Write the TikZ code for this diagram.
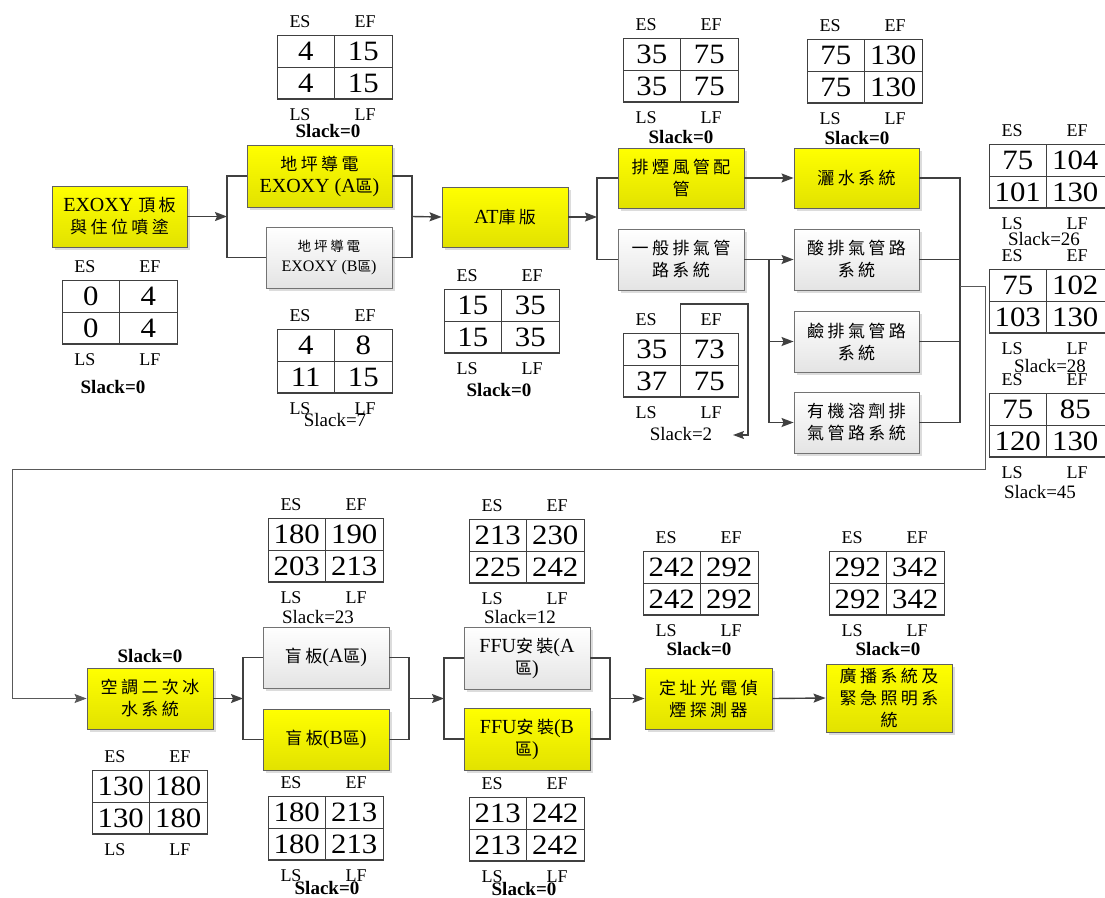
\documentclass[tikz,border=0pt]{standalone}
\usepackage{fontspec}
\setmainfont{Liberation Serif}
\newfontfamily\cjk{Noto Sans CJK TC}[Scale=0.85,LetterSpace=20]
\newfontfamily\numfont{Liberation Serif}[FakeStretch=1.1]
\usetikzlibrary{arrows.meta,shadows}
\newcommand\zh[1]{{\cjk #1}}

\definecolor{linegrey}{HTML}{404040}
\definecolor{boxedge}{HTML}{606060}
\definecolor{yeltop}{HTML}{FFFF00}
\definecolor{yelbot}{HTML}{E2E200}
\definecolor{greybot}{HTML}{E4E4E4}

% activity table: name, top-left x, y, ES, EF, LS, LF, width
\newcommand\cpmtable[8]{%
  \begin{scope}[shift={(#2,#3)}]
    \draw[gridln] (0,0) rectangle (#8,64);
    \draw[gridln] (57.5,0) -- (57.5,64) (0,32) -- (#8,32);
    \draw[gridbot] (0,64) -- (#8,64);
    \node[num] (#1es) at (28.75,16) {#4};
    \node[num] (#1ef) at (86.25,16) {#5};
    \node[num] (#1ls) at (28.75,48) {#6};
    \node[num] (#1lf) at (86.25,48) {#7};
    \node[lbl] (#1tes) at (23,-13) {ES};
    \node[lbl] (#1tef) at (88,-13) {EF};
    \node[lbl] (#1tls) at (23,80) {LS};
    \node[lbl] (#1tlf) at (88,80) {LF};
  \end{scope}}

\tikzset{
  act/.style={draw=boxedge, line width=0.9pt, minimum width=126pt, minimum height=61pt,
    align=center, inner sep=2pt, font=\fontsize{20}{22}\selectfont,
    drop shadow={shadow xshift=3pt, shadow yshift=-3pt, fill=black!30, opacity=0.45}},
  crit/.style={act, top color=yeltop, bottom color=yelbot},
  grey/.style={act, draw=black!55, top color=white, bottom color=greybot},
  conn/.style={draw=linegrey, line width=1.4pt},
  arr/.style={conn, -{Stealth[length=12pt,width=9pt,inset=2pt]}},
  fb/.style={draw=black!65, line width=0.8pt},
  gridln/.style={draw=linegrey, line width=1pt},
  gridbot/.style={draw=linegrey, line width=2pt},
  num/.style={font=\numfont\fontsize{28}{28}\selectfont, inner sep=0pt},
  lbl/.style={font=\fontsize{18}{18}\selectfont, inner sep=0pt},
  slk/.style={font=\fontsize{19}{19}\selectfont, inner sep=0pt},
  slkb/.style={font=\bfseries\fontsize{19}{19}\selectfont, inner sep=0pt},
}

\begin{document}
\begin{tikzpicture}[x=1pt, y=-1pt]
\useasboundingbox[fill=white] (0,0) rectangle (1105,897);

% ---- activities ----
\node[crit, minimum width=135pt] (b1) at (119.5,216.5) {EXOXY \zh{頂板}\\\zh{與住位噴塗}};
\node[crit, minimum width=145pt, minimum height=62pt] (b2) at (319.5,176) {\zh{地坪導電}\\EXOXY (A\zh{區})};
\node[grey, font=\fontsize{16}{20}\selectfont] (b3) at (329,257.5) {\zh{地坪導電}\\EXOXY (B\zh{區})};
\node[crit, minimum height=60pt] (b4) at (505,217) {AT\zh{庫版}};
\node[crit, minimum height=60pt] (b5) at (681,178) {\zh{排煙風管配}\\\zh{管}};
\node[grey] (b6) at (681,259.5) {\zh{一般排氣管}\\\zh{路系統}};
\node[crit, minimum width=125pt, minimum height=60pt] (b7) at (856.5,178) {\zh{灑水系統}};
\node[grey, minimum width=125pt] (b8) at (856.5,259.5) {\zh{酸排氣管路}\\\zh{系統}};
\node[grey, minimum width=125pt] (b9) at (856.5,341.5) {\zh{鹼排氣管路}\\\zh{系統}};
\node[grey, minimum width=125pt] (b10) at (856.5,422.5) {\zh{有機溶劑排}\\\zh{氣管路系統}};

\node[crit] (b11) at (150,698.5) {\zh{空調二次冰}\\\zh{水系統}};
\node[grey] (b12) at (326,657.5) {\zh{盲板}(A\zh{區})};
\node[crit] (b13) at (326,739.5) {\zh{盲板}(B\zh{區})};
\node[grey, minimum height=62pt] (b14) at (527,658) {FFU\zh{安裝}(A\\\zh{區})};
\node[crit, minimum height=62pt] (b15) at (527,739) {FFU\zh{安裝}(B\\\zh{區})};
\node[crit, minimum width=127pt] (b16) at (708.5,698.5) {\zh{定址光電偵}\\\zh{煙探測器}};
\node[crit, minimum height=68pt] (b17) at (889,698) {\zh{廣播系統及}\\\zh{緊急照明系}\\\zh{統}};

% ---- junction points ----
\coordinate (j1) at (227,216.5);
\coordinate (j2) at (412,216.5);
\coordinate (j3) at (597,217);
\coordinate (j4) at (769,259.5);
\coordinate (j6) at (960,422.5);
\coordinate (f0) at (960,286);
\coordinate (f1) at (985,286);
\coordinate (f2) at (985,469);
\coordinate (f3) at (12,469);
\coordinate (j7) at (243,698.5);
\coordinate (j8) at (409,698.5);
\coordinate (j9) at (444,698.5);
\coordinate (j10) at (610,698.5);

% ---- connectors, upper row ----
\draw[arr] (b1.east) -- (j1);
\draw[conn] (b2.west) -| (j1) |- (b3.west);
\draw[conn] (b2.east) -| (j2) |- (b3.east);
\draw[arr] (j2) -- (b4.west);
\draw[arr] (b4.east) -- (j3);
\draw[conn] (b5.west) -| (j3) |- (b6.west);
\draw[arr] (b5.east) -- (b7.west);
\draw[arr] (b6.east) -- (b8.west);
\draw[arr] (j4) |- (b9.west);
\draw[arr] (j4) |- (b10.west);
\draw[conn] (b7.east) -| (j6) -- (b10.east);
\draw[conn] (b8.east) -- (b8.east -| j6);
\draw[conn] (b9.east) -- (b9.east -| j6);

% ---- link to the lower row ----
\draw[fb, -{Stealth[length=12pt,width=9pt,inset=2pt]}] (f0) -- (f1) -- (f2) -- (f3) |- (b11.west);

% ---- connectors, lower row ----
\draw[arr] (b11.east) -- (j7);
\draw[conn] (b12.west) -| (j7) |- (b13.west);
\draw[conn] (b12.east) -| (j8) |- (b13.east);
\draw[arr] (j8) -- (j9);
\draw[conn] (b14.west) -| (j9) |- (b15.west);
\draw[conn] (b14.east) -| (j10) |- (b15.east);
\draw[arr] (j10) -- (b16.west);
\draw[arr] (b16.east) -- (b17.west);

% ---- time tables ----
\cpmtable{t1}{62}{280}{0}{4}{0}{4}{115}
\cpmtable{t2}{277}{35}{4}{15}{4}{15}{115}
\cpmtable{t3}{277}{329}{4}{8}{11}{15}{115}
\cpmtable{t4}{444}{289}{15}{35}{15}{35}{115}
\cpmtable{t5}{623}{38}{35}{75}{35}{75}{115}
\cpmtable{t6}{623}{333}{35}{73}{37}{75}{115}
\cpmtable{t7}{807}{39}{75}{130}{75}{130}{115}
\cpmtable{t8}{989}{144}{75}{104}{101}{130}{117}
\cpmtable{t9}{989}{269}{75}{102}{103}{130}{117}
\cpmtable{t10}{989}{393}{75}{85}{120}{130}{117}
\cpmtable{t11}{268}{518}{180}{190}{203}{213}{115}
\cpmtable{t12}{92}{770}{130}{180}{130}{180}{115}
\cpmtable{t13}{268}{796}{180}{213}{180}{213}{115}
\cpmtable{t14}{469}{519}{213}{230}{225}{242}{115}
\cpmtable{t15}{469}{797}{213}{242}{213}{242}{115}
\cpmtable{t16}{643}{551}{242}{292}{242}{292}{115}
\cpmtable{t17}{829}{551}{292}{342}{292}{342}{115}

% return line beside the 35/73 table
\coordinate (s0) at (680.5,333);
\coordinate (s1) at (680.5,304);
\coordinate (s2) at (748,304);
\coordinate (s3) at (748,435);
\coordinate (s4) at (733,435);
\draw[conn, line width=1.2pt, -{Stealth[length=11pt,width=8pt,inset=2pt]}] (s0) -- (s1) -- (s2) -- (s3) -- (s4);

% ---- slack values ----
\node[slkb] (k1) at (113,387) {Slack=0};
\node[slkb] (k2) at (328,131) {Slack=0};
\node[slk] (k3) at (335,420) {Slack=7};
\node[slkb] (k4) at (499,390) {Slack=0};
\node[slkb] (k5) at (681,137) {Slack=0};
\node[slk] (k6) at (681,434) {Slack=2};
\node[slkb] (k7) at (857,138) {Slack=0};
\node[slk] (k8) at (1044,239) {Slack=26};
\node[slk] (k9) at (1050,366) {Slack=28};
\node[slk] (k10) at (1040,492) {Slack=45};
\node[slk] (k11) at (318,617) {Slack=23};
\node[slkb] (k12) at (150,656) {Slack=0};
\node[slkb] (k13) at (327,888) {Slack=0};
\node[slk] (k14) at (520,617) {Slack=12};
\node[slkb] (k15) at (524,889) {Slack=0};
\node[slkb] (k16) at (699,649) {Slack=0};
\node[slkb] (k17) at (888,649) {Slack=0};
\end{tikzpicture}
\end{document}
